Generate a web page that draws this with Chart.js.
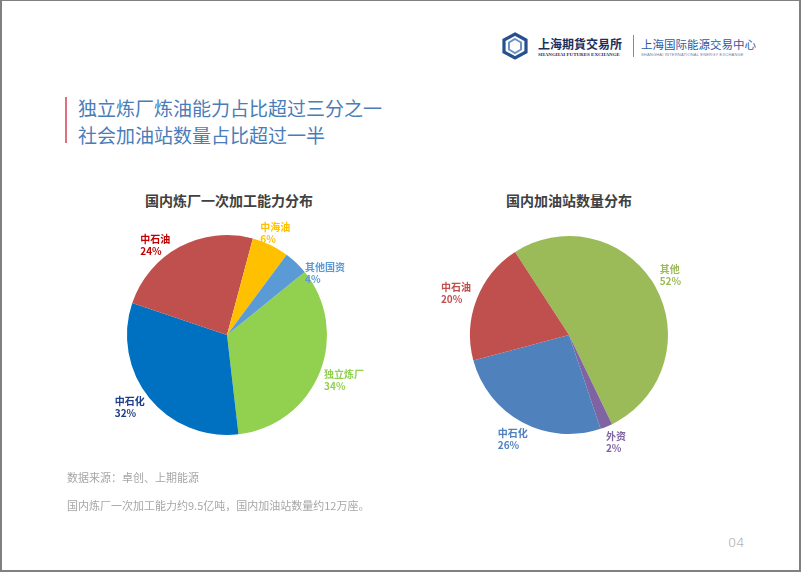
<!DOCTYPE html>
<html lang="zh">
<head>
<meta charset="utf-8">
<title>国内炼厂与加油站分布</title>
<script src="https://cdn.jsdelivr.net/npm/chart.js@4.4.1/dist/chart.umd.min.js"></script>
<style>
  html, body { margin: 0; padding: 0; background: #fff; }
  body { width: 802px; height: 573px; position: relative; overflow: hidden;
         font-family: "Noto Sans CJK SC", "Noto Sans", sans-serif; }
  .frame { position: absolute; left: 0; top: 0; width: 801px; height: 572px; box-sizing: border-box;
           border: 1px solid #808080; border-left-width: 2px; border-right-width: 2px; border-bottom-width: 2px; }
  .abs { position: absolute; white-space: nowrap; }
  .bar { position: absolute; left: 65px; top: 97px; width: 2px; height: 46px; background: #E0707E; }
  .headline { left: 78px; top: 94px; font-size: 19px; line-height: 27px; color: #4A7DB8; }
  .pie-title { top: 190px; font-size: 14px; font-weight: bold; color: #404040; line-height: 20px; }
  .note { left: 67px; font-size: 11px; color: #A6A6A6; line-height: 14px; }
  .page { left: 728px; top: 535px; font-size: 13px; color: #9a9a9a; font-family: "DejaVu Sans", sans-serif; font-weight: 300; }
  .chart-box { position: absolute; width: 280px; height: 280px; }
  .logo-cn { left: 538px; top: 35px; font-size: 12px; font-weight: bold; color: #1E2E5C; }
  .logo-en { left: 538px; top: 52px; font-size: 5px; color: #1E2E5C; font-family: "Liberation Serif", serif; font-weight: bold; }
  .sine-cn { left: 641px; top: 36px; font-size: 11.5px; color: #2D5AA3; }
  .sine-en { left: 641px; top: 52px; font-size: 4px; color: #6d7fa8; font-family: "Liberation Sans", sans-serif; letter-spacing: 0.2px; }
  .divider { position: absolute; left: 633px; top: 35px; width: 1px; height: 22px; background: #8a8a8a; }
</style>
</head>
<body>
<div class="frame"></div>

<!-- logo -->
<svg class="abs" style="left:501px;top:32px" width="28" height="28" viewBox="0 0 28 28">
  <polygon points="14,2 25,8 25,20 14,26 3,20 3,8" fill="none" stroke="#27508F" stroke-width="3.2"/>
  <polygon points="14,7 20,10.5 20,17.5 14,21 8,17.5 8,10.5" fill="none" stroke="#6C93C7" stroke-width="2"/>
</svg>
<div class="abs logo-cn">上海期貨交易所</div>
<div class="abs logo-en">SHANGHAI FUTURES EXCHANGE</div>
<div class="divider"></div>
<div class="abs sine-cn">上海国际能源交易中心</div>
<div class="abs sine-en">SHANGHAI INTERNATIONAL ENERGY EXCHANGE</div>

<!-- headline -->
<div class="bar"></div>
<div class="abs headline">独立炼厂炼油能力占比超过三分之一<br>社会加油站数量占比超过一半</div>

<div class="abs pie-title" style="left:145px">国内炼厂一次加工能力分布</div>
<div class="abs pie-title" style="left:506px">国内加油站数量分布</div>

<div class="chart-box" style="left:87px;top:195px"><canvas id="refineryChart" width="280" height="280"></canvas></div>
<div class="chart-box" style="left:429px;top:195px"><canvas id="stationChart" width="280" height="280"></canvas></div>

<div class="abs note" style="top:470px">数据来源：卓创、上期能源</div>
<div class="abs note" style="top:498px">国内炼厂一次加工能力约9.5亿吨，国内加油站数量约12万座。</div>
<div class="abs page">04</div>

<script>
// ==========================================================
// DADOS DOS GRÁFICOS
// ==========================================================
const refineryLabels = ['独立炼厂', '中石化', '中石油', '中海油', '其他国资'];
const refineryShares = [34, 32, 24, 6, 4];

const stationLabels = ['其他', '外资', '中石化', '中石油'];
const stationShares = [52, 2, 26, 20];

// cores das fatias e dos rótulos
const refineryColors = ['#92D050', '#0070C0', '#C0504D', '#FFC000', '#5B9BD5'];
const refineryTextColors = ['#92D050', '#1F3C88', '#C00000', '#FFC000', '#5B9BD5'];
const stationColors = ['#9BBB59', '#8064A2', '#4F81BD', '#C0504D'];
const stationTextColors = ['#9BBB59', '#8064A2', '#4F81BD', '#C0504D'];

// plugin simples para os rótulos fora da pizza (nome + %)
const outsideLabels = {
    id: 'outsideLabels',
    afterDatasetsDraw(chart, args, opts) {
        const ctx = chart.ctx;
        const meta = chart.getDatasetMeta(0);
        const values = chart.data.datasets[0].data;
        ctx.save();
        ctx.font = 'bold 10px "Noto Sans CJK SC", sans-serif';
        ctx.textAlign = 'left';
        ctx.textBaseline = 'middle';
        meta.data.forEach((arc, i) => {
            const p = arc.getProps(['startAngle', 'endAngle', 'outerRadius', 'x', 'y'], true);
            const mid = (p.startAngle + p.endAngle) / 2;
            const r = p.outerRadius + opts.gap;
            const nudge = opts.nudges[i] || [0, 0];
            const lx = p.x + Math.cos(mid) * r + nudge[0];
            const ly = p.y + Math.sin(mid) * r + nudge[1];
            ctx.fillStyle = opts.colors[i];
            ctx.fillText(chart.data.labels[i], lx, ly - 6);
            ctx.fillText(values[i] + '%', lx, ly + 6);
        });
        ctx.restore();
    }
};

function makePie(canvasId, labels, values, colors, rotation, padding, labelOpts) {
    return new Chart(document.getElementById(canvasId), {
        type: 'pie',
        data: {
            labels: labels,
            datasets: [{
                data: values,
                backgroundColor: colors,
                borderWidth: 0,
                hoverOffset: 0,
                offset: 0
            }]
        },
        options: {
            responsive: false,
            animation: false,
            rotation: rotation,
            layout: { padding: padding },
            events: [],
            plugins: {
                legend: { display: false },
                tooltip: { enabled: false },
                outsideLabels: labelOpts
            }
        },
        plugins: [outsideLabels]
    });
}

makePie('refineryChart', refineryLabels, refineryShares, refineryColors, 51, 40, {
    gap: 20,
    colors: refineryTextColors,
    nudges: [[-14, 0], [-19, -3], [-30, 16], [-19, 6], [-5, 25]]
});

makePie('stationChart', stationLabels, stationShares, stationColors, -33, 41, {
    gap: 20,
    colors: stationTextColors,
    nudges: [[-13, -1], [-8, -3], [-15, -1], [-17, 1]]
});
</script>
</body>
</html>
